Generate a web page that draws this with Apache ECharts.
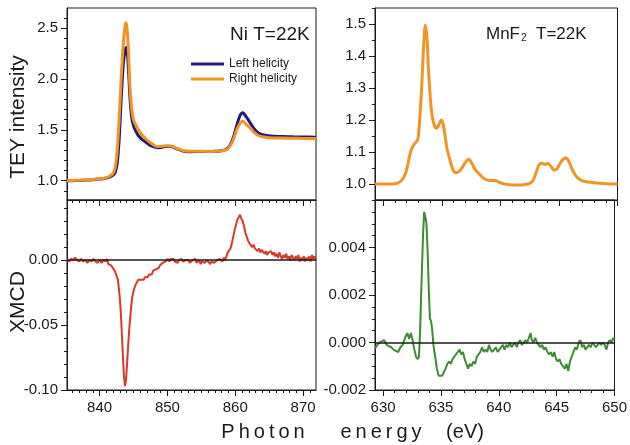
<!DOCTYPE html>
<html>
<head>
<meta charset="utf-8">
<script src="https://cdn.jsdelivr.net/npm/echarts@6/dist/echarts.min.js"></script>
<style>
  html, body { margin: 0; padding: 0; background: #fff; }
  #chart { width: 630px; height: 445px; }
</style>
</head>
<body>
<div id="chart"></div>
<script>
// Ni L-edge TEY, left helicity [eV, intensity]
const niLeft = [
  [835.2,0.998],[836,1.000],[837,1.003],[838,1.006],[839,1.010],[840,1.016],[840.5,1.020],
  [841,1.026],[841.5,1.037],[842,1.055],[842.3,1.08],[842.6,1.17],[842.9,1.42],[843.2,1.82],
  [843.5,2.15],[843.75,2.28],[843.95,2.31],[844.1,2.26],[844.3,2.05],[844.5,1.80],[844.75,1.62],
  [845.0,1.54],[845.4,1.48],[845.7,1.445],[846.2,1.41],[846.7,1.385],[847.3,1.355],[847.9,1.335],
  [848.5,1.325],[849.2,1.33],[850,1.34],[850.65,1.335],[851.5,1.31],[852.4,1.29],[853.5,1.285],
  [854.8,1.288],[856,1.288],[857,1.29],[858,1.295],[858.8,1.315],[859.3,1.36],[859.7,1.42],
  [860.2,1.54],[860.7,1.64],[861.1,1.668],[861.6,1.63],[862.2,1.57],[862.8,1.51],[863.4,1.47],
  [864.2,1.45],[865.6,1.437],[867,1.435],[868.5,1.432],[870,1.43],[871.9,1.428]
];
// Ni L-edge TEY, right helicity
const niRight = [
  [835.2,1.000],[836,1.002],[837,1.005],[838,1.008],[839,1.012],[840,1.018],[840.5,1.022],
  [841,1.030],[841.5,1.045],[842,1.075],[842.3,1.13],[842.6,1.30],[842.9,1.62],[843.2,2.03],
  [843.5,2.35],[843.75,2.52],[843.9,2.556],[844.05,2.50],[844.25,2.29],[844.5,1.90],[844.75,1.70],
  [845.0,1.60],[845.4,1.54],[845.7,1.50],[846.2,1.455],[846.7,1.42],[847.3,1.385],[847.9,1.355],
  [848.5,1.335],[849.2,1.34],[850,1.345],[850.65,1.34],[851.5,1.315],[852.4,1.295],[853.5,1.29],
  [854.8,1.29],[856,1.288],[857,1.29],[858,1.295],[858.8,1.31],[859.3,1.35],[859.7,1.40],
  [860.2,1.50],[860.7,1.565],[861.1,1.585],[861.6,1.555],[862.2,1.52],[862.8,1.475],[863.4,1.445],
  [864.2,1.43],[865.6,1.42],[867,1.42],[868.5,1.418],[870,1.416],[871.9,1.415]
];
// Ni XMCD
const niXmcd = [
  [835.2,0.000],[835.5,-0.001],[835.8,0.001],[836.1,0.000],[836.4,0.002],[836.7,0.000],[837.0,-0.001],
  [837.3,0.001],[837.6,-0.001],[837.9,0.000],[838.2,-0.002],[838.5,0.000],[838.8,-0.001],[839.1,0.001],
  [839.4,-0.001],[839.7,-0.002],[840.0,0.000],[840.3,-0.002],[840.6,0.000],[840.9,-0.001],[841.1,0.001],
  [841.3,-0.003],[841.5,-0.002],[841.7,-0.004],[841.9,-0.004],[842.1,-0.007],[842.3,-0.009],[842.5,-0.012],
  [842.7,-0.015],[842.85,-0.022],[843.0,-0.030],[843.15,-0.042],[843.3,-0.058],[843.45,-0.075],
  [843.6,-0.090],[843.75,-0.097],[843.9,-0.092],[844.05,-0.080],[844.2,-0.067],[844.35,-0.055],
  [844.5,-0.045],[844.65,-0.036],[844.8,-0.029],[844.95,-0.025],[845.1,-0.022],[845.3,-0.019],
  [845.5,-0.018],[845.7,-0.015],[845.9,-0.016],[846.1,-0.015],[846.3,-0.014],[846.5,-0.015],
  [846.7,-0.013],[846.9,-0.012],[847.1,-0.013],[847.3,-0.011],[847.5,-0.010],[847.7,-0.011],
  [847.9,-0.008],[848.1,-0.009],[848.3,-0.007],[848.5,-0.006],[848.7,-0.006],[848.9,-0.004],
  [849.1,-0.004],[849.3,-0.002],[849.5,-0.003],[849.7,-0.001],[849.9,0.000],[850.1,0.001],
  [850.3,-0.001],[850.5,0.001],[850.7,0.000],[850.9,0.001],[851.1,-0.001],[851.3,0.000],
  [851.5,-0.002],[851.7,0.000],[851.9,-0.001],[852.1,0.001],[852.3,-0.001],[852.5,-0.002],
  [852.7,0.000],[852.9,-0.001],[853.1,0.000],[853.3,-0.002],[853.5,-0.001],[853.7,0.000],
  [853.9,-0.001],[854.1,0.001],[854.3,-0.002],[854.5,-0.001],[854.7,0.000],[854.9,-0.003],
  [855.1,-0.001],[855.3,0.000],[855.5,-0.002],[855.7,-0.001],[855.9,0.000],[856.1,-0.001],
  [856.3,-0.003],[856.5,-0.001],[856.7,0.000],[856.9,-0.002],[857.1,-0.001],[857.3,0.000],
  [857.5,-0.001],[857.7,0.001],[857.9,0.000],[858.1,-0.001],[858.3,0.002],[858.5,0.000],
  [858.7,0.003],[858.9,0.006],[859.1,0.005],[859.3,0.009],[859.5,0.013],[859.7,0.018],
  [859.9,0.023],[860.1,0.027],[860.3,0.031],[860.5,0.033],[860.7,0.035],[860.9,0.032],
  [861.1,0.030],[861.3,0.026],[861.5,0.021],[861.7,0.018],[861.9,0.015],[862.1,0.013],
  [862.3,0.014],[862.5,0.010],[862.7,0.012],[862.9,0.009],[863.1,0.010],[863.3,0.007],
  [863.5,0.009],[863.7,0.006],[863.9,0.008],[864.1,0.007],[864.3,0.005],[864.5,0.007],
  [864.7,0.004],[864.9,0.006],[865.1,0.005],[865.3,0.007],[865.5,0.004],[865.7,0.006],
  [865.9,0.003],[866.1,0.005],[866.3,0.002],[866.5,0.006],[866.7,0.003],[866.9,0.001],
  [867.1,0.004],[867.3,0.002],[867.5,0.005],[867.7,0.001],[867.9,0.003],[868.1,0.000],
  [868.3,0.004],[868.5,0.002],[868.7,0.000],[868.9,0.003],[869.1,0.001],[869.3,0.004],
  [869.5,-0.001],[869.7,0.002],[869.9,0.000],[870.1,0.003],[870.3,-0.001],[870.5,0.002],
  [870.7,0.000],[870.9,0.003],[871.1,-0.001],[871.3,0.004],[871.5,0.001],[871.7,0.003],[871.9,0.000]
];
// MnF2 TEY
const mnTey = [
  [629.3,1.000],[630.0,1.000],[630.5,1.000],[631.0,1.001],[631.3,1.004],[631.6,1.012],[631.9,1.033],
  [632.1,1.06],[632.3,1.096],[632.5,1.115],[632.7,1.127],[632.9,1.135],[633.0,1.148],[633.15,1.22],
  [633.3,1.315],[633.45,1.43],[633.6,1.497],[633.75,1.45],[633.85,1.367],[634.0,1.28],[634.15,1.22],
  [634.35,1.185],[634.55,1.174],[634.75,1.185],[634.95,1.20],[635.1,1.19],[635.25,1.158],[635.45,1.11],
  [635.7,1.075],[635.95,1.045],[636.2,1.035],[636.5,1.040],[636.8,1.055],[637.05,1.07],[637.3,1.077],
  [637.55,1.066],[637.8,1.048],[638.1,1.035],[638.5,1.02],[638.9,1.012],[639.3,1.011],[639.65,1.010],
  [640.0,1.004],[640.5,0.999],[641.0,0.997],[641.5,0.997],[642.0,0.998],[642.5,1.002],[642.8,1.012],
  [643.05,1.035],[643.3,1.060],[643.55,1.065],[643.8,1.061],[644.05,1.064],[644.3,1.056],[644.6,1.043],
  [644.85,1.048],[645.15,1.068],[645.4,1.078],[645.6,1.081],[645.85,1.07],[646.1,1.048],[646.4,1.028],
  [646.75,1.015],[647.2,1.008],[648.0,1.004],[649.0,1.001],[650.0,1.000]
];
// MnF2 XMCD
const mnXmcd = [
  [629.3,-0.00025],[629.5,-0.0001],[629.7,0.0000],[629.9,0.00005],[630.1,0.0001],[630.3,-0.0001],
  [630.5,-0.00015],[630.7,-0.0002],[630.9,-0.0003],[631.1,-0.00035],[631.3,-0.0004],[631.5,-0.0002],
  [631.7,-0.0001],[631.9,0.0002],[632.1,0.0004],[632.25,0.00015],[632.4,0.0004],[632.55,0.0001],
  [632.7,-0.0003],[632.85,-0.0006],[633.0,-0.0007],[633.1,-0.0006],[633.2,0.0005],[633.3,0.0022],
  [633.45,0.0045],[633.55,0.0055],[633.65,0.0053],[633.75,0.0050],[633.85,0.0038],[633.95,0.0022],
  [634.05,0.0010],[634.15,0.0009],[634.25,0.0005],[634.35,-0.0001],[634.5,-0.0006],[634.65,-0.0011],
  [634.8,-0.0014],[634.95,-0.00135],[635.1,-0.0014],[635.25,-0.00135],[635.4,-0.0011],[635.55,-0.0009],
  [635.7,-0.0008],[635.85,-0.0009],[636.0,-0.0007],[636.15,-0.0006],[636.3,-0.0005],[636.45,-0.0004],
  [636.6,-0.0003],[636.75,-0.0005],[636.9,-0.0004],[637.05,-0.0007],[637.2,-0.0009],[637.35,-0.0011],
  [637.5,-0.0009],[637.65,-0.0010],[637.8,-0.0008],[637.95,-0.0009],[638.1,-0.0006],[638.25,-0.0005],
  [638.4,-0.0004],[638.55,-0.0002],[638.7,-0.0004],[638.85,-0.0003],[639.0,-0.0004],[639.15,-0.0001],
  [639.3,-0.0003],[639.45,-0.0004],[639.6,-0.0003],[639.75,-0.0002],[639.9,-0.0004],[640.05,-0.0003],
  [640.2,-0.0002],[640.35,-0.0001],[640.5,-0.0003],[640.65,-0.0001],[640.8,-0.0002],[640.95,0.0000],
  [641.1,-0.0002],[641.25,-0.0001],[641.4,0.0000],[641.55,-0.0002],[641.7,0.0000],[641.85,0.0001],
  [642.0,-0.0001],[642.15,0.0000],[642.3,0.0001],[642.45,0.0000],[642.6,0.0002],[642.75,0.0004],
  [642.85,0.0001],[643.0,0.0000],[643.15,0.0002],[643.3,0.0000],[643.45,-0.0001],[643.6,-0.0002],
  [643.75,-0.0001],[643.9,-0.0003],[644.05,-0.0002],[644.2,-0.0004],[644.35,-0.0005],[644.5,-0.0004],
  [644.65,-0.0006],[644.8,-0.0004],[644.95,-0.0007],[645.1,-0.0008],[645.25,-0.0007],[645.4,-0.0009],
  [645.55,-0.0010],[645.7,-0.0011],[645.85,-0.0009],[646.0,-0.0012],[646.15,-0.0008],[646.3,-0.0006],
  [646.45,-0.0004],[646.6,-0.0002],[646.75,-0.0003],[646.9,0.0000],[647.05,0.0001],[647.2,-0.0002],
  [647.35,-0.0001],[647.5,-0.0003],[647.65,-0.0002],[647.8,-0.0001],[647.95,-0.0002],[648.1,0.0000],
  [648.25,-0.0001],[648.4,-0.0002],[648.55,-0.0001],[648.7,0.0000],[648.85,-0.0001],[649.0,0.0000],
  [649.15,-0.0001],[649.3,-0.0003],[649.45,0.0000],[649.6,0.0001],[649.75,0.0000],[649.9,0.0002],[650.0,0.0001]
];

// tick labels
const niXLabels = [840, 850, 860, 870];
const mnXLabels = [630, 635, 640, 645, 650];
const niTeyYLabels = [1.0, 1.5, 2.0, 2.5];
const niXmcdYLabels = [-0.10, -0.05, 0.00];
const mnTeyYLabels = [1.0, 1.1, 1.2, 1.3, 1.4, 1.5];
const mnXmcdYLabels = [-0.002, 0.000, 0.002, 0.004];

(function () {
  const chart = echarts.init(document.getElementById("chart"));
  const FONT = '"Liberation Sans", Arial, sans-serif';
  const INK = "#1a1a1a";
  const NAVY = "#1f1c78";
  const ORANGE = "#f39325";
  const RED = "#d8392a";
  const GREEN = "#3e8a35";

  // minor tick positions
  function steps(a, b, s) {
    const out = [];
    for (let i = 0; a + i * s <= b + 1e-9; i++) out.push(+(a + i * s).toFixed(6));
    return out;
  }

  // main axis (labels + long ticks) and an overlaid one for the short ticks
  function axisPair(dim, gridIndex, min, max, major, minor, digits, showLabels) {
    const base = {
      type: "value", gridIndex, min, max,
      position: dim === "x" ? "bottom" : "left",
      splitLine: { show: false }
    };
    const main = Object.assign({}, base, {
      axisLine: { show: true, onZero: false, lineStyle: { color: INK, width: 1 } },
      axisTick: { show: true, length: 6, customValues: major, lineStyle: { color: INK, width: 1 } },
      axisLabel: {
        show: showLabels, customValues: major, margin: dim === "x" ? 10 : 9,
        fontFamily: FONT, fontSize: 15, color: INK,
        formatter: (v) => v.toFixed(digits)
      }
    });
    const sub = Object.assign({}, base, {
      axisLine: { show: false, onZero: false },
      axisTick: { show: true, length: 3, customValues: minor, lineStyle: { color: INK, width: 1 } },
      axisLabel: { show: false }
    });
    return [main, sub];
  }

  const grids = [
    { left: 67, top: 8, width: 249, height: 192 },
    { left: 67, top: 200, width: 249, height: 190 },
    { left: 375, top: 8, width: 242.5, height: 192 },
    { left: 375, top: 200, width: 242.5, height: 190 }
  ].map((g) => Object.assign(g, { show: true, borderColor: INK, borderWidth: 1 }));

  const xAxis = [
    ...axisPair("x", 0, 835.2, 871.9, niXLabels, steps(836, 871, 1), 0, false),
    ...axisPair("x", 1, 835.2, 871.9, niXLabels, steps(836, 871, 1), 0, true),
    ...axisPair("x", 2, 629.3, 650, mnXLabels, steps(630, 650, 1), 0, false),
    ...axisPair("x", 3, 629.3, 650, mnXLabels, steps(630, 650, 1), 0, true)
  ];
  const yAxis = [
    ...axisPair("y", 0, 0.81, 2.70, niTeyYLabels, steps(0.9, 2.6, 0.1), 1, true),
    ...axisPair("y", 1, -0.10, 0.0464, niXmcdYLabels, steps(-0.10, 0.04, 0.01), 2, true),
    ...axisPair("y", 2, 0.95, 1.55, mnTeyYLabels, steps(0.95, 1.55, 0.05), 1, true),
    ...axisPair("y", 3, -0.002, 0.006, mnXmcdYLabels, steps(-0.002, 0.0055, 0.0005), 3, true)
  ];

  const zeroLine = {
    silent: true, symbol: "none", label: { show: false },
    lineStyle: { color: INK, width: 1.5, type: "solid" },
    data: [{ yAxis: 0 }]
  };

  function line(name, axis, data, color, width, smooth, extra) {
    return Object.assign({
      name, type: "line", xAxisIndex: axis, yAxisIndex: axis, data,
      showSymbol: false, smooth, color,
      lineStyle: { color, width }
    }, extra || {});
  }

  const spaced = (s) => s.split("").join("\u2009");

  const option = {
    animation: false,
    backgroundColor: "#fff",
    grid: grids,
    xAxis,
    yAxis,
    legend: {
      data: ["Left helicity", "Right helicity"],
      orient: "vertical", left: 186, top: 53,
      icon: "rect", itemWidth: 33, itemHeight: 3, itemGap: 3,
      textStyle: { fontFamily: FONT, fontSize: 12, color: INK }
    },
    series: [
      line("Left helicity", 0, niLeft, NAVY, 3, 0.3),
      line("Right helicity", 0, niRight, ORANGE, 3, 0.3),
      line("Ni XMCD", 2, niXmcd, RED, 2, false, { markLine: zeroLine }),
      line("MnF2 TEY", 4, mnTey, ORANGE, 3, 0.3),
      line("MnF2 XMCD", 6, mnXmcd, GREEN, 2, false, { markLine: zeroLine })
    ],
    graphic: [
      { type: "text", x: 18, y: 117, rotation: Math.PI / 2,
        style: { text: "TEY intensity", font: "21px " + FONT, fill: INK, textAlign: "center", textVerticalAlign: "middle", align: "center", verticalAlign: "middle" } },
      { type: "text", x: 18, y: 302, rotation: Math.PI / 2,
        style: { text: "XMCD", font: "21px " + FONT, fill: INK, textAlign: "center", textVerticalAlign: "middle", align: "center", verticalAlign: "middle" } },
      { type: "text", x: 263, y: 432,
        style: { text: spaced("Photon"), font: "20px " + FONT, fill: INK, textAlign: "center", textVerticalAlign: "middle", align: "center", verticalAlign: "middle" } },
      { type: "text", x: 381, y: 432,
        style: { text: spaced("energy"), font: "20px " + FONT, fill: INK, textAlign: "center", textVerticalAlign: "middle", align: "center", verticalAlign: "middle" } },
      { type: "text", x: 465, y: 432,
        style: { text: "(eV)", font: "20px " + FONT, fill: INK, textAlign: "center", textVerticalAlign: "middle", align: "center", verticalAlign: "middle" } },
      { type: "text", x: 230, y: 35,
        style: { text: "Ni T=22K", font: "19px " + FONT, fill: INK, textAlign: "left", textVerticalAlign: "middle", align: "left", verticalAlign: "middle" } },
      { type: "text", x: 486, y: 34,
        style: {
          text: "{m|MnF}{s|2}{m|  T=22K}", fill: INK, textAlign: "left", textVerticalAlign: "middle", align: "left", verticalAlign: "middle",
          rich: {
            m: { fontFamily: FONT, fontSize: 17, fill: INK, color: INK },
            s: { fontFamily: FONT, fontSize: 10, fill: INK, color: INK, padding: [9, 0, 0, 1] }
          }
        } }
    ]
  };
  chart.setOption(option);
})();
</script>
</body>
</html>
